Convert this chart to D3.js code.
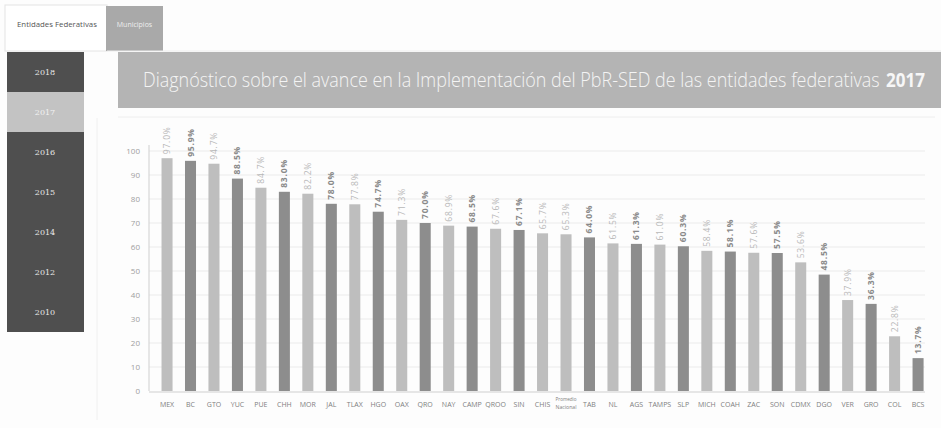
<!DOCTYPE html>
<html>
<head>
<meta charset="utf-8">
<script src="https://cdn.jsdelivr.net/npm/d3@7"></script>
<style>
  html, body { margin: 0; padding: 0; background: #fdfdfd; }
  svg { display: block; }
</style>
</head>
<body>
<svg id="chart" width="941" height="428"></svg>
<script>
// Entity abbreviations, in ranked order ("Promedio Nacional" is the national average)
const entities = ["MEX","BC","GTO","YUC","PUE","CHH","MOR","JAL","TLAX","HGO","OAX","QRO","NAY","CAMP","QROO","SIN","CHIS","Promedio Nacional","TAB","NL","AGS","TAMPS","SLP","MICH","COAH","ZAC","SON","CDMX","DGO","VER","GRO","COL","BCS"];
// Implementation progress, percent
const progress = [97.0,95.9,94.7,88.5,84.7,83.0,82.2,78.0,77.8,74.7,71.3,70.0,68.9,68.5,67.6,67.1,65.7,65.3,64.0,61.5,61.3,61.0,60.3,58.4,58.1,57.6,57.5,53.6,48.5,37.9,36.3,22.8,13.7];
const yTicks = [0,10,20,30,40,50,60,70,80,90,100];
const years = ["2018","2017","2016","2015","2014","2012","2010"];
const selectedYear = "2017";
const tabs = ["Entidades Federativas","Municipios"];
const titleText = "Diagnóstico sobre el avance en la Implementación del PbR-SED de las entidades federativas";

const svg = d3.select("#chart");
const FONT = "'Open Sans', 'DejaVu Sans', sans-serif";

// Place a text horizontally squeezed so it spans exactly `width` px from x.
function fittedText(parent, x, yPos, width, str, attrs) {
  const g = parent.append("g");
  const t = g.append("text").attr("x",0).attr("y",0).text(str);
  Object.entries(attrs).forEach(([k,v]) => t.attr(k,v));
  const natural = t.node().getComputedTextLength();
  g.attr("transform",`translate(${x},${yPos}) scale(${width/natural},1)`);
  return t;
}

// ---- tabs ----
svg.append("rect").attr("x",5).attr("y",5).attr("width",102).attr("height",46)
  .attr("fill","#ffffff").attr("stroke","#e4e4e4");
fittedText(svg, 17, 27, 80, tabs[0],
  {"font-family":FONT,"font-size":7.5,"fill":"#555"});
svg.append("rect").attr("x",106).attr("y",6).attr("width",57).attr("height",45)
  .attr("fill","#a9a9a9");
svg.append("text").attr("x",134.5).attr("y",27).attr("text-anchor","middle")
  .attr("font-family",FONT).attr("font-size",7).attr("fill","#eeeeee")
  .text(tabs[1]);
svg.append("line").attr("x1",107).attr("x2",941).attr("y1",51).attr("y2",51)
  .attr("stroke","#ededed");

// ---- year menu ----
const menu = svg.append("g");
const itemH = 40;
menu.selectAll("rect").data(years).join("rect")
  .attr("x",7).attr("y",(d,i)=>52 + i*itemH).attr("width",77).attr("height",itemH)
  .attr("fill",d => d === selectedYear ? "#c3c3c3" : "#4f4f4f");
menu.selectAll("text").data(years).join("text")
  .attr("x",45).attr("y",(d,i)=>52 + i*itemH + itemH/2 + 3)
  .attr("text-anchor","middle").attr("font-family","'DejaVu Serif', serif")
  .attr("font-size",8).attr("fill",d => d === selectedYear ? "#f2f2f2" : "#e8e8e8")
  .text(d=>d);
svg.append("line").attr("x1",97).attr("x2",97).attr("y1",118).attr("y2",420)
  .attr("stroke","#f0f0f0");

// ---- title banner ----
svg.append("rect").attr("x",118).attr("y",52).attr("width",823).attr("height",56)
  .attr("fill","#b4b4b4");
fittedText(svg, 143, 87, 737, titleText,
  {"font-family":FONT,"font-size":20,"font-weight":300,"fill":"#f4f4f4"});
fittedText(svg, 886, 87, 39, selectedYear,
  {"font-family":FONT,"font-size":20,"font-weight":700,"fill":"#f7f7f7"});
svg.append("line").attr("x1",118).attr("x2",935).attr("y1",117).attr("y2",117)
  .attr("stroke","#eeeeee");

// ---- chart ----
const x = d3.scaleBand().domain(entities).range([155.3, 929.8])
  .paddingInner(0.53).paddingOuter(0.265);
const y = d3.scaleLinear().domain([0,100]).range([391, 151]);

const plot = svg.append("g");

// grid
plot.selectAll("line.grid").data(yTicks.slice(1)).join("line")
  .attr("class","grid")
  .attr("x1",149).attr("x2",925)
  .attr("y1",d=>y(d)).attr("y2",d=>y(d))
  .attr("stroke","#ebebeb");

// y axis
const yAxis = plot.append("g").attr("transform","translate(149,0)")
  .call(d3.axisLeft(y).tickValues(yTicks).tickSize(0).tickPadding(9));
yAxis.select(".domain").attr("stroke","#cfcfcf").attr("d","M0,145V391");
yAxis.selectAll("text").attr("font-family",FONT).attr("font-size",8)
  .attr("fill","#a0a0a0");

// tone: national average light, states alternate light/dark by rank
let rank = -1;
const tone = entities.map(e => {
  if (e === "Promedio Nacional") return "light";
  rank += 1;
  return rank % 2 === 0 ? "light" : "dark";
});

// bars
plot.selectAll("rect.bar").data(entities).join("rect")
  .attr("class","bar")
  .attr("x",d=>x(d)).attr("width",x.bandwidth())
  .attr("y",(d,i)=>y(progress[i]))
  .attr("height",(d,i)=>y(0)-y(progress[i]))
  .attr("fill",(d,i)=> tone[i]==="dark" ? "#8d8d8d" : "#bebebe");

// x axis
const xAxis = plot.append("g").attr("transform","translate(0,392)")
  .call(d3.axisBottom(x).tickSize(0).tickPadding(10));
xAxis.select(".domain").attr("stroke","#cfcfcf").attr("d","M149,0H925");
xAxis.selectAll("text").attr("font-family",FONT).attr("font-size",7)
  .attr("fill","#808080")
  .each(function(d){
    if (d === "Promedio Nacional") {
      const t = d3.select(this).text(null).attr("font-size",6);
      t.append("tspan").attr("x",0).attr("dy","-0.1em")
        .attr("textLength",21).attr("lengthAdjust","spacingAndGlyphs").text("Promedio");
      t.append("tspan").attr("x",0).attr("dy","1.3em")
        .attr("textLength",21).attr("lengthAdjust","spacingAndGlyphs").text("Nacional");
    }
  });

// value labels, rotated above each bar
plot.selectAll("text.val").data(entities).join("text")
  .attr("class","val")
  .attr("transform",(d,i)=>`translate(${x(d)+x.bandwidth()/2+3},${y(progress[i])-4}) rotate(-90)`)
  .attr("font-family",FONT).attr("font-size",8.5).attr("letter-spacing",0.8)
  .attr("font-weight",(d,i)=> tone[i]==="dark" ? 700 : 400)
  .attr("fill",(d,i)=> tone[i]==="dark" ? "#8a8a8a" : "#b8b8b8")
  .text((d,i)=> progress[i].toFixed(1) + "%");
</script>
</body>
</html>
